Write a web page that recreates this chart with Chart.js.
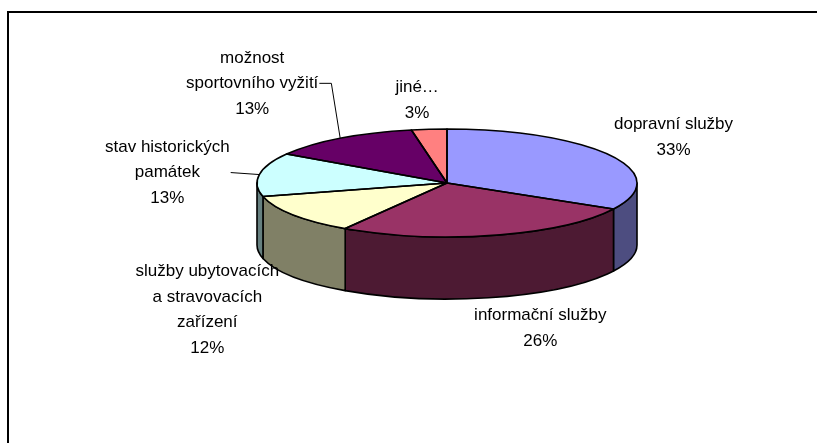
<!DOCTYPE html>
<html>
<head>
<meta charset="utf-8">
<script src="https://cdn.jsdelivr.net/npm/chart.js@4/dist/chart.umd.min.js"></script>
<style>
  html, body { margin: 0; padding: 0; background: #fff; }
  #chart { display: block; }
</style>
</head>
<body>
<canvas id="chart" width="817" height="443"></canvas>
<script>
// Data
const categories = [
    ['dopravní služby'],
    ['informační služby'],
    ['služby ubytovacích', 'a stravovacích', 'zařízení'],
    ['stav historických', 'památek'],
    ['možnost', 'sportovního vyžití'],
    ['jiné…']
];
const shares = [33, 26, 12, 13, 13, 3];
const sliceColors = ['#9999FF', '#993366', '#FFFFCC', '#CCFFFF', '#660066', '#FF8080'];

// 3D look of the pie
const TOP_Y = 183;        // centre of the top face on screen
const SQUASH = 54 / 190;  // vertical radius / horizontal radius
const DEPTH = 62;         // height of the side wall
const EDGE_W = 1.6;

// label placement relative to the rim point at the slice middle
const labelNudge = [[63, -18], [46, 93], [-86, 95], [-92, -2], [-88, -55], [-12, -29]];
const leaderRun = [null, null, null, 0, 12, null];
const LINE_H = 25.5;
const FONT = '17px "Liberation Sans", Arial, sans-serif';

function darker(hex) {
    const n = parseInt(hex.slice(1), 16);
    const r = (n >> 16) & 255, g = (n >> 8) & 255, b = n & 255;
    return 'rgb(' + Math.round(r / 2) + ',' + Math.round(g / 2) + ',' + Math.round(b / 2) + ')';
}

function tilt(ctx, base, arc) {
    ctx.setTransform(base);
    ctx.translate(arc.x, TOP_Y);
    ctx.scale(1, SQUASH);
    ctx.translate(-arc.x, -arc.y);
}

const framePlugin = {
    id: 'frame',
    beforeDraw(chart) {
        const ctx = chart.ctx;
        ctx.save();
        ctx.fillStyle = '#fff';
        ctx.fillRect(0, 0, chart.width, chart.height);
        ctx.fillStyle = '#000';
        ctx.fillRect(7, 11, chart.width - 7, 2);
        ctx.fillRect(7, 11, 2, chart.height - 11);
        ctx.restore();
    }
};

const pie3dPlugin = {
    id: 'pie3d',
    beforeDatasetsDraw(chart) {
        const ctx = chart.ctx;
        const arcs = chart.getDatasetMeta(0).data;
        const base = ctx.getTransform();
        ctx.save();
        const d = DEPTH / SQUASH;
        // side walls of the front half
        arcs.forEach((arc, i) => {
            const a = Math.max(arc.startAngle, 0);
            const b = Math.min(arc.endAngle, Math.PI);
            if (b <= a) return;
            const x = arc.x, y = arc.y, r = arc.outerRadius;
            tilt(ctx, base, arc);
            ctx.beginPath();
            ctx.arc(x, y, r, a, b);
            ctx.lineTo(x + r * Math.cos(b), y + r * Math.sin(b) + d);
            ctx.arc(x, y + d, r, b, a, true);
            ctx.closePath();
            ctx.setTransform(base);
            ctx.fillStyle = darker(sliceColors[i]);
            ctx.fill();
            ctx.lineWidth = EDGE_W;
            ctx.lineJoin = 'round';
            ctx.strokeStyle = '#000';
            ctx.stroke();
        });
        tilt(ctx, base, arcs[0]);
        chart.$baseTransform = base;
    },
    afterDatasetsDraw(chart) {
        const ctx = chart.ctx;
        const arcs = chart.getDatasetMeta(0).data;
        const base = chart.$baseTransform;
        // outlines of the top face
        arcs.forEach(arc => {
            tilt(ctx, base, arc);
            ctx.beginPath();
            ctx.moveTo(arc.x, arc.y);
            ctx.arc(arc.x, arc.y, arc.outerRadius, arc.startAngle, arc.endAngle);
            ctx.closePath();
            ctx.setTransform(base);
            ctx.lineWidth = EDGE_W;
            ctx.lineJoin = 'round';
            ctx.strokeStyle = '#000';
            ctx.stroke();
        });
        ctx.restore();
    }
};

const labelPlugin = {
    id: 'pieLabels',
    afterDraw(chart) {
        const ctx = chart.ctx;
        const arcs = chart.getDatasetMeta(0).data;
        const total = shares.reduce((s, v) => s + v, 0);
        ctx.save();
        ctx.font = FONT;
        ctx.fillStyle = '#000';
        ctx.textAlign = 'center';
        ctx.textBaseline = 'middle';
        arcs.forEach((arc, i) => {
            const mid = (arc.startAngle + arc.endAngle) / 2;
            const ex = arc.x + arc.outerRadius * Math.cos(mid);
            const ey = TOP_Y + arc.outerRadius * SQUASH * Math.sin(mid);
            const lines = categories[i].concat([Math.round(shares[i] / total * 100) + '%']);
            const cx = ex + labelNudge[i][0];
            const cy = ey + labelNudge[i][1];
            const top = cy - (lines.length - 1) * LINE_H / 2;
            let widest = 0;
            lines.forEach((t, k) => {
                ctx.fillText(t, cx, top + k * LINE_H);
                widest = Math.max(widest, ctx.measureText(t).width);
            });
            if (leaderRun[i] !== null) {
                const sx = cx + widest / 2 + 1;
                ctx.beginPath();
                ctx.moveTo(sx, cy);
                ctx.lineTo(sx + leaderRun[i], cy);
                ctx.lineTo(ex, ey);
                ctx.lineWidth = 1;
                ctx.strokeStyle = '#000';
                ctx.stroke();
            }
        });
        ctx.restore();
    }
};

new Chart(document.getElementById('chart'), {
    type: 'pie',
    data: {
        labels: categories,
        datasets: [{
            data: shares,
            backgroundColor: sliceColors,
            borderWidth: 0
        }]
    },
    options: {
        responsive: false,
        animation: false,
        layout: { padding: { left: 257, right: 180, top: 0, bottom: 0 } },
        plugins: {
            legend: { display: false },
            tooltip: { enabled: false }
        }
    },
    plugins: [framePlugin, pie3dPlugin, labelPlugin]
});
</script>
</body>
</html>
